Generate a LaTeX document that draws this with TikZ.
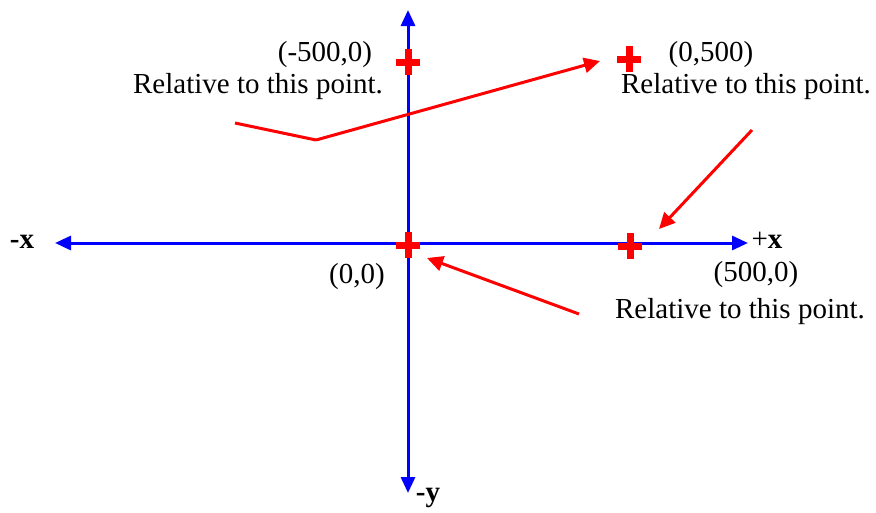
\documentclass[tikz,border=0pt]{standalone}
\usepackage{fontspec}
\setmainfont{Liberation Serif}
\usetikzlibrary{arrows.meta}
\begin{document}
\begin{tikzpicture}[x=1pt,y=-1pt,
  axis/.style={draw={rgb,255:red,0;green,0;blue,255}, line width=3pt, -{Triangle[length=16pt,width=14pt]}},
  redline/.style={draw={rgb,255:red,255;green,0;blue,0}, line width=3pt},
  redarrow/.style={redline, -{Triangle[length=16pt,width=15pt]}},
  crossmark/.style={draw={rgb,255:red,255;green,0;blue,0}, line width=7pt},
  lbl/.style={font=\fontsize{29}{34}\selectfont, inner sep=0pt, anchor=center},
  axlbl/.style={font=\fontsize{29}{34}\selectfont\bfseries, inner sep=0pt, anchor=center}]
\useasboundingbox (0,0) rectangle (876,512);
% axes
\coordinate (xl) at (55,243);
\coordinate (xr) at (748,243);
\coordinate (yt) at (408,10);
\coordinate (yb) at (408,493);
\draw[axis] (408,243) -- (xl);
\draw[axis] (408,243) -- (xr);
\draw[axis] (408,243) -- (yt);
\draw[axis] (408,243) -- (yb);
% crosses
\coordinate (c1) at (408,62);
\coordinate (c2) at (408,245);
\coordinate (c3) at (630,246);
\coordinate (c4) at (629,59);
\foreach \c in {c1,c2,c3,c4}{
  \draw[crossmark] ([xshift=-12pt]\c) -- ([xshift=12pt]\c);
  \draw[crossmark] ([yshift=-13pt]\c) -- ([yshift=13pt]\c);
}
% labels
\node[axlbl] (mx) at (22,242) {-x};
\node[lbl] (px) at (767,240) {+\textbf{x}};
\node[axlbl] (my) at (428,498) {-y};
\node[lbl] (l1) at (325,55) {(-500,0)};
\node[lbl] (r1) at (258,87) {Relative to this point.};
\node[lbl] (l2) at (711,55) {(0,500)};
\node[lbl] (r2) at (746,87) {Relative to this point.};
\node[lbl] (l3) at (357,277) {(0,0)};
\node[lbl] (l4) at (756,275) {(500,0)};
\node[lbl] (r3) at (740,312) {Relative to this point.};
% red connectors
\coordinate (a1s) at (235,123);
\coordinate (a1m) at (316,140);
\coordinate (a1e) at (600,61);
\draw[redline] (a1s) -- (a1m);
\draw[redarrow] (a1m) -- (a1e);
\coordinate (a2s) at (752,130);
\coordinate (a2e) at (659,229);
\draw[redarrow] (a2s) -- (a2e);
\coordinate (a3s) at (579,314);
\coordinate (a3e) at (427,258);
\draw[redarrow] (a3s) -- (a3e);
\end{tikzpicture}
\end{document}
